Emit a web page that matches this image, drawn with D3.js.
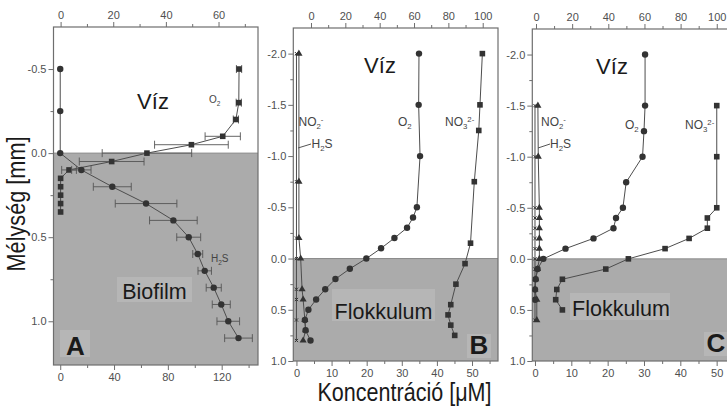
<!DOCTYPE html>
<html><head><meta charset="utf-8">
<script src="https://cdn.jsdelivr.net/npm/d3@7"></script>
<style>
body{margin:0;background:#fff;}
svg{display:block;font-family:"Liberation Sans",Arial,Helvetica,sans-serif;}
</style>
</head><body>
<svg id="chart" width="727" height="406"></svg>
<script>
// ---------------- DATA ----------------
// Panel A (Biofilm): O2 on top axis, H2S on bottom axis
const A_O2_depth = [-0.5,-0.3,-0.2,-0.1,-0.05,0.0,0.05,0.1,0.15,0.2,0.25,0.3,0.35];
const A_O2       = [67.8,67.7,66.6,61.6,49.7,32.8,19.4,3.2,0,0,0,0,0];
const A_O2_err   = [1.0,1.0,1.0,6.7,14,17,12.3,2.8,0,0,0,0,0];
const A_H2S_depth = [-0.5,-0.25,0.0,0.1,0.2,0.3,0.4,0.5,0.6,0.7,0.8,0.9,1.0,1.1];
const A_H2S       = [0,0,0,15.7,38.7,63.8,84.1,95.5,102.2,107.4,114.1,119.7,124.9,132.5];
const A_H2S_err   = [0,0,0,7.2,14.1,22.9,17.7,8.9,3.7,5.0,5.6,6.7,8.4,10.3];

// Panel B (Flokkulum): NO3 on top axis; O2, NO2, H2S on bottom axis
const B_O2_depth = [-2.0,-1.5,-1.0,-0.5,-0.4,-0.3,-0.2,-0.1,0,0.1,0.2,0.3,0.4,0.5,0.6,0.7,0.8];
const B_O2       = [34.9,34.8,35.2,34.3,33.2,31.5,27.9,24.1,19.9,15.2,11.1,8.2,5.6,3.4,2.4,2.6,4.0];
const B_NO3_depth = [-2.0,-1.5,-1.25,-0.75,-0.15,0.05,0.25,0.45,0.55,0.65,0.75];
const B_NO3       = [99.8,98.4,97.7,95.1,92.9,89.7,84.4,81.4,79.8,81.4,83.7];
const B_H2S_depth = [-2.0,-0.75,-0.2,0,0.3,0.4,0.6,0.7,0.8];
const B_H2S       = [0.7,0.7,0.7,1.2,1.6,1.9,2.4,2.6,1.9];
const B_NO2_depth = [-2.0,-0.75,-0.2,0,0.3,0.4,0.6,0.8];
const B_NO2       = [0,0,0,0,0,0,0,0];

// Panel C (Flokkulum)
const C_O2_depth = [-2.0,-1.5,-1.25,-1.0,-0.75,-0.5,-0.4,-0.3,-0.2,-0.1,0,0.1,0.2,0.3,0.4];
const C_O2       = [30.3,30.3,30.0,29.6,25.1,24.2,22.3,21.6,16.1,8.4,2.3,0.7,0.2,0,0];
const C_NO3_depth = [-1.5,-1.0,-0.5,-0.4,-0.3,-0.2,-0.1,0,0.1,0.2,0.3,0.4,0.5];
const C_NO3       = [100,100,100,94.8,94.8,84.7,71.4,51.1,38.6,14.6,11.5,10.9,14.6];
const C_H2S_depth = [-1.5,-1.0,-0.5,-0.4,-0.3,-0.2,-0.1,0,0.1,0.2,0.3,0.4,0.6];
const C_H2S       = [0.8,0.9,1.2,1.2,1.2,1.2,1.2,1.2,0.7,0.2,0,0.5,0.5];
const C_NO2_depth = [-1.5,-1.0,-0.5,-0.4,-0.3,-0.2,-0.1,0,0.1,0.2,0.3,0.4,0.6];
const C_NO2       = [0,0,0,0,0,0,0,0,0,0,0,0,0];

// Tick values
const A_depthTicks = [-0.5,0,0.5,1.0];
const A_depthMinor = [-0.25,0.25,0.75];
const A_topTicks = [0,20,40,60];
const A_topMinor = [10,30,50,70];
const A_botTicks = [0,40,80,120];
const A_botMinor = [20,60,100,140];
const BC_depthTicks = [-2.0,-1.5,-1.0,-0.5,0,0.5,1.0];
const BC_depthMinor = [-1.75,-1.25,-0.75,-0.25,0.25,0.75];
const BC_topTicks = [0,20,40,60,80,100];
const BC_topMinor = [10,30,50,70,90];
const BC_botTicks = [0,10,20,30,40,50];
const BC_botMinor = [5,15,25,35,45,55];

const yTitle = "Mélység [mm]";
const xTitle = "Koncentráció [μM]";

// ---------------- DRAW ----------------
const svg = d3.select("#chart");
const SHADE = "#ababab", LINE = "#4d4d4d", MARK = "#333", AX = "#6e6e6e", TXT = "#505050";

const defs = svg.append("defs");

function makePanel(id, f, yDom, topDom, botDom, ticks) {
  defs.append("clipPath").attr("id", "clip" + id)
    .append("rect").attr("x", f.x0).attr("y", f.y0 - 1).attr("width", f.x1 - f.x0).attr("height", f.y1 - f.y0 + 2);
  const y = d3.scaleLinear().domain(yDom).range([f.y0, f.y1]);
  const xt = d3.scaleLinear().domain(topDom).range([f.x0, f.x1]);
  const xb = d3.scaleLinear().domain(botDom).range([f.x0, f.x1]);
  const g = svg.append("g");
  // shaded region (depth >= 0)
  g.append("rect").attr("x", f.x0).attr("y", y(0)).attr("width", f.x1 - f.x0).attr("height", f.y1 - y(0))
    .attr("fill", SHADE);
  g.append("line").attr("x1", f.x0).attr("x2", f.x1).attr("y1", y(0)).attr("y2", y(0))
    .attr("stroke", "#8a8a8a").attr("stroke-width", 1);
  // frame
  g.append("rect").attr("x", f.x0).attr("y", f.y0).attr("width", f.x1 - f.x0).attr("height", f.y1 - f.y0)
    .attr("fill", "none").attr("stroke", AX).attr("stroke-width", 1.2);
  const fmt1 = d => d.toFixed(1);
  const styleAxis = sel => {
    sel.select(".domain").remove();
    sel.selectAll("line").attr("stroke", AX).attr("stroke-width", 1);
    sel.selectAll("text").attr("fill", TXT).style("font-size", "11px").style("font-family", '"Liberation Sans",Arial,sans-serif');
  };
  g.append("g").attr("transform", `translate(${f.x0},0)`)
    .call(d3.axisLeft(y).tickValues(ticks.depth).tickFormat(fmt1).tickSize(5).tickPadding(2)).call(styleAxis);
  g.append("g").attr("transform", `translate(${f.x0},0)`)
    .call(d3.axisLeft(y).tickValues(ticks.depthMinor).tickFormat("").tickSize(3)).call(styleAxis);
  g.append("g").attr("transform", `translate(0,${f.y0})`)
    .call(d3.axisTop(xt).tickValues(ticks.top).tickFormat(d3.format("d")).tickSize(5).tickPadding(3)).call(styleAxis);
  g.append("g").attr("transform", `translate(0,${f.y0})`)
    .call(d3.axisTop(xt).tickValues(ticks.topMinor).tickFormat("").tickSize(3)).call(styleAxis);
  g.append("g").attr("transform", `translate(0,${f.y1})`)
    .call(d3.axisBottom(xb).tickValues(ticks.bot).tickFormat(d3.format("d")).tickSize(5).tickPadding(3)).call(styleAxis);
  g.append("g").attr("transform", `translate(0,${f.y1})`)
    .call(d3.axisBottom(xb).tickValues(ticks.botMinor).tickFormat("").tickSize(3)).call(styleAxis);
  const plot = svg.append("g").attr("clip-path", `url(#clip${id})`);
  return {y, xt, xb, g, plot, f};
}

function series(P, xs, depth, vals, shape, err) {
  const pts = depth.map((d, i) => ({d, v: vals[i], e: err ? err[i] : 0}));
  const line = d3.line().x(p => xs(p.v)).y(p => P.y(p.d));
  P.plot.append("path").datum(pts).attr("d", line).attr("fill", "none")
    .attr("stroke", LINE).attr("stroke-width", 1);
  if (err) {
    const eb = P.plot.append("g").attr("stroke", "#555").attr("stroke-width", 0.9);
    pts.filter(p => p.e > 0).forEach(p => {
      const yy = P.y(p.d), xa = xs(p.v - p.e), xc = xs(p.v + p.e);
      eb.append("line").attr("x1", xa).attr("x2", xc).attr("y1", yy).attr("y2", yy);
      eb.append("line").attr("x1", xa).attr("x2", xa).attr("y1", yy - 4).attr("y2", yy + 4);
      eb.append("line").attr("x1", xc).attr("x2", xc).attr("y1", yy - 4).attr("y2", yy + 4);
    });
  }
  const mg = P.plot.append("g");
  pts.forEach(p => {
    const cx = xs(p.v), cy = P.y(p.d);
    if (shape === "circle") mg.append("circle").attr("cx", cx).attr("cy", cy).attr("r", 3.2).attr("fill", MARK);
    else if (shape === "square") mg.append("rect").attr("x", cx - 2.8).attr("y", cy - 2.8).attr("width", 5.6).attr("height", 5.6).attr("fill", MARK);
    else if (shape === "triangle") mg.append("path").attr("d", d3.symbol(d3.symbolTriangle, 22)()).attr("transform", `translate(${cx},${cy})`).attr("fill", MARK);
    else if (shape === "x") mg.append("path").attr("d", `M${cx-1.6},${cy-1.6}L${cx+1.6},${cy+1.6}M${cx-1.6},${cy+1.6}L${cx+1.6},${cy-1.6}`).attr("stroke", MARK).attr("stroke-width", 1);
  });
}

function chem(parent, x, y, parts, size, anchor) {
  const t = parent.append("text").attr("x", x).attr("y", y).attr("fill", "#444")
    .style("font-size", size + "px").attr("text-anchor", anchor || "start");
  parts.forEach(([s, k]) => {
    const ts = t.append("tspan").text(s);
    if (k === "sub") ts.style("font-size", (size * 0.65) + "px").attr("dy", size * 0.25);
    else if (k === "sup") ts.style("font-size", (size * 0.65) + "px").attr("dy", -size * 0.6);
    else if (k === "n2") ts.attr("dy", size * 0.35); // return after sup
    else if (k === "n1") ts.attr("dy", -size * 0.25); // return after sub
  });
  return t;
}

function bigLabel(parent, x, y, txt, size, box, weight) {
  if (box) parent.append("rect").attr("x", box[0]).attr("y", box[1]).attr("width", box[2]).attr("height", box[3]).attr("fill", "#b6b6b6");
  parent.append("text").attr("x", x).attr("y", y).attr("text-anchor", "middle")
    .style("font-size", size + "px").style("font-weight", weight || "normal").attr("fill", "#1a1a1a").text(txt);
}

// Panel A
const PA = makePanel("A", {x0: 53.5, x1: 258, y0: 27, y1: 365}, [-0.75, 1.26], [-2.7, 75], [-5, 147],
  {depth: A_depthTicks, depthMinor: A_depthMinor, top: A_topTicks, topMinor: A_topMinor, bot: A_botTicks, botMinor: A_botMinor});
series(PA, PA.xt, A_O2_depth, A_O2, "square", A_O2_err);
series(PA, PA.xb, A_H2S_depth, A_H2S, "circle", A_H2S_err);

// Panel B
const PB = makePanel("B", {x0: 293.3, x1: 498, y0: 28, y1: 361}, [-2.25, 1.0], [-10.3, 108.9], [-0.9, 57.4],
  {depth: BC_depthTicks, depthMinor: BC_depthMinor, top: BC_topTicks, topMinor: BC_topMinor, bot: BC_botTicks, botMinor: BC_botMinor});
series(PB, PB.xb, B_NO2_depth, B_NO2, "x");
series(PB, PB.xb, B_H2S_depth, B_H2S, "triangle");
series(PB, PB.xb, B_O2_depth, B_O2, "circle");
series(PB, PB.xt, B_NO3_depth, B_NO3, "square");

// Panel C
const PC = makePanel("C", {x0: 532.3, x1: 737, y0: 29, y1: 361}, [-2.25, 1.0], [-2.05, 111.2], [-0.74, 55.6],
  {depth: BC_depthTicks, depthMinor: BC_depthMinor, top: BC_topTicks, topMinor: BC_topMinor, bot: BC_botTicks, botMinor: BC_botMinor});
series(PC, PC.xb, C_NO2_depth, C_NO2, "x");
series(PC, PC.xb, C_H2S_depth, C_H2S, "triangle");
series(PC, PC.xb, C_O2_depth, C_O2, "circle");
series(PC, PC.xt, C_NO3_depth, C_NO3, "square");

// Labels
const L = svg.append("g");
bigLabel(L, 153, 109, "Víz", 22);
bigLabel(L, 154.5, 299, "Biofilm", 21.5, [117, 277, 75, 25]);
bigLabel(L, 75.5, 355, "A", 26, [60, 330, 30, 27], "bold");
chem(L, 209, 103, [["O"], ["2", "sub"]], 10);
chem(L, 211, 262, [["H"], ["2", "sub"], ["S", "n1"]], 10);

bigLabel(L, 380, 73, "Víz", 22);
bigLabel(L, 383.5, 319, "Flokkulum", 21.5, [332, 289, 103, 32]);
bigLabel(L, 479, 354, "B", 26, [467, 334, 24, 24], "bold");
chem(L, 298.5, 126, [["NO"], ["2", "sub"], ["-", "sup"]], 12);
chem(L, 311.5, 148, [["H"], ["2", "sub"], ["S", "n1"]], 12);
L.append("line").attr("x1", 311).attr("y1", 144).attr("x2", 298).attr("y2", 148).attr("stroke", "#555");
chem(L, 398, 126, [["O"], ["2", "sub"]], 12);
chem(L, 445, 126, [["NO"], ["3", "sub"], ["2-", "sup"]], 12);

bigLabel(L, 612, 74, "Víz", 22);
bigLabel(L, 621, 316, "Flokkulum", 21.5, [570, 293, 100, 27]);
bigLabel(L, 716, 352, "C", 26, [704, 332, 23, 24], "bold");
chem(L, 541, 126, [["NO"], ["2", "sub"], ["-", "sup"]], 12);
chem(L, 550, 148, [["H"], ["2", "sub"], ["S", "n1"]], 12);
L.append("line").attr("x1", 550).attr("y1", 144).attr("x2", 538).attr("y2", 148).attr("stroke", "#555");
chem(L, 625, 129, [["O"], ["2", "sub"]], 12);
chem(L, 685, 129, [["NO"], ["3", "sub"], ["2-", "sup"]], 12);

// Axis titles
svg.append("text").attr("transform", "translate(25,204) rotate(-90)").attr("text-anchor", "middle")
  .style("font-size", "25px").attr("textLength", 135).attr("lengthAdjust", "spacingAndGlyphs")
  .attr("fill", "#1a1a1a").text(yTitle);
svg.append("text").attr("x", 404.5).attr("y", 401).attr("text-anchor", "middle")
  .style("font-size", "25px").attr("textLength", 174).attr("lengthAdjust", "spacingAndGlyphs")
  .attr("fill", "#1a1a1a").text(xTitle);
</script>
</body></html>
